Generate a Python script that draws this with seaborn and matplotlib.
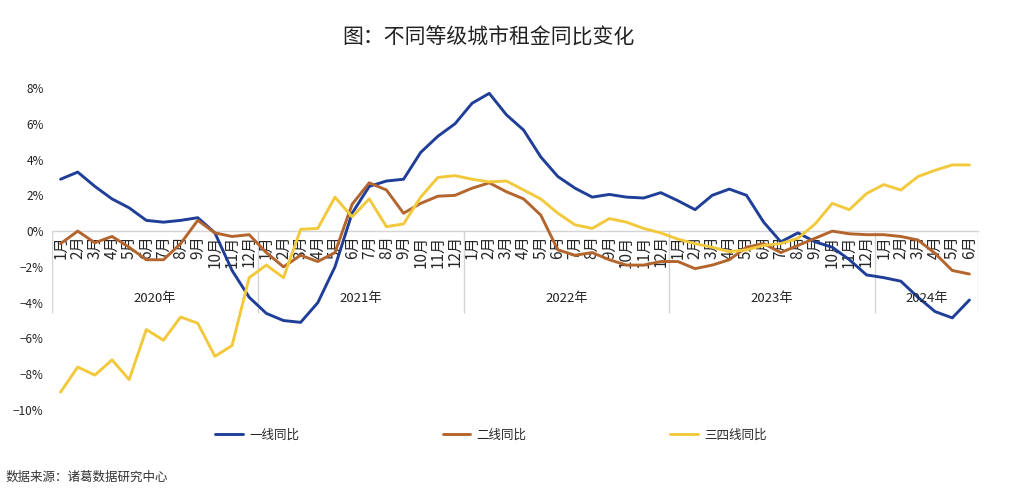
import numpy as np
import pandas as pd
import matplotlib
matplotlib.use("Agg")
import matplotlib.pyplot as plt
import seaborn as sns

# ---------------- data ----------------
years = ["2020年", "2021年", "2022年", "2023年", "2024年"]
months_per_year = [12, 12, 12, 12, 6]
month_labels = [f"{m}月" for n in months_per_year for m in range(1, n + 1)]

tier1 = [2.9, 3.3, 2.5, 1.8, 1.3, 0.6, 0.5, 0.6, 0.75, -0.1, -2.2, -3.7,
         -4.6, -5.0, -5.1, -4.0, -2.0, 1.0, 2.5, 2.8, 2.9, 4.4, 5.3, 6.0,
         7.15, 7.7, 6.5, 5.65, 4.15, 3.05, 2.4, 1.9, 2.05, 1.9, 1.85, 2.15,
         1.7, 1.2, 2.0, 2.35, 2.0, 0.5, -0.6, -0.1, -0.6, -0.9, -1.6, -2.45,
         -2.6, -2.8, -3.7, -4.5, -4.85, -3.85]
tier2 = [-0.7, 0.0, -0.65, -0.3, -0.9, -1.6, -1.6, -0.7, 0.6, -0.1, -0.3, -0.2,
         -1.2, -2.0, -1.35, -1.7, -1.2, 1.5, 2.7, 2.3, 1.0, 1.55, 1.95, 2.0,
         2.4, 2.7, 2.2, 1.8, 0.9, -1.05, -1.35, -1.2, -1.6, -1.9, -1.9, -1.7,
         -1.7, -2.1, -1.9, -1.6, -0.9, -0.7, -1.2, -0.8, -0.4, 0.0, -0.15, -0.2,
         -0.2, -0.3, -0.5, -1.25, -2.2, -2.4]
tier34 = [-9.0, -7.6, -8.05, -7.2, -8.3, -5.5, -6.1, -4.8, -5.15, -7.0, -6.4, -2.6,
          -1.9, -2.6, 0.1, 0.15, 1.9, 0.8, 1.8, 0.25, 0.4, 1.9, 3.0, 3.1,
          2.9, 2.75, 2.8, 2.3, 1.8, 1.0, 0.35, 0.15, 0.7, 0.5, 0.15, -0.1,
          -0.45, -0.7, -0.9, -1.15, -1.05, -0.8, -0.7, -0.4, 0.4, 1.55, 1.2, 2.1,
          2.6, 2.3, 3.05, 3.4, 3.7, 3.7]
series_names = ["一线同比", "二线同比", "三四线同比"]
colors = ["#1f3e98", "#b4652e", "#f2c93c"]

title = "图：不同等级城市租金同比变化"
source = "数据来源：诸葛数据研究中心"

# ---------------- plot ----------------
sns.set_theme(style="white")
plt.rcParams["font.family"] = ["Noto Sans CJK SC", "DejaVu Sans"]
plt.rcParams["axes.unicode_minus"] = True

n = len(month_labels)
idx = np.arange(n)
df = pd.concat([
    pd.DataFrame({"idx": idx, "value": vals, "series": name})
    for name, vals in zip(series_names, [tier1, tier2, tier34])
])

fig = plt.figure(figsize=(10.27, 5.0), dpi=100)
ax = fig.add_axes([52 / 1027, 1 - 410 / 500, (978 - 52) / 1027, (410 - 88) / 500])

sns.lineplot(data=df, x="idx", y="value", hue="series", hue_order=series_names,
             palette=colors, linewidth=2.1, ax=ax, legend=True)

ax.set_xlim(-0.5, n - 0.5)
ax.set_ylim(-10, 8)
yt = np.arange(-10, 9, 2)
ax.set_yticks(yt)
ax.set_yticklabels([f"{v}%".replace("-", "\u2212") for v in yt], fontsize=8.5, color="#222222")
ax.tick_params(axis="y", length=0, pad=6)

ax.set_xticks(idx)
ax.set_xticklabels(month_labels, fontsize=7.3, color="#222222")
ax.tick_params(axis="x", length=0, pad=3, labelrotation=90)
for lab in ax.get_xticklabels():
    lab.set_rotation(90)
    lab.set_va("top")
    lab.set_ha("center")
ax.set_xlabel("")
ax.set_ylabel("")

for s in ["left", "right", "top"]:
    ax.spines[s].set_visible(False)
ax.spines["bottom"].set_position(("data", 0))
ax.spines["bottom"].set_color("#d4d4d4")
ax.spines["bottom"].set_linewidth(1.0)
ax.spines["bottom"].set_zorder(0)

# year group separators and labels
bounds = np.concatenate([[0], np.cumsum(months_per_year)]) - 0.5
ax.vlines(bounds, -4.6, 0, colors="#d4d4d4", linewidth=1.0, zorder=0)
for i, y in enumerate(years):
    ax.text((bounds[i] + bounds[i + 1]) / 2, -3.75, y, ha="center", va="center",
            fontsize=9.5, color="#222222")

# legend
h, l = ax.get_legend_handles_labels()
ax.get_legend().remove()
fig.legend(h, l, loc="center", bbox_to_anchor=(0.478, 0.13), ncol=3, frameon=False,
           fontsize=9, handlelength=2.2, handletextpad=0.5, columnspacing=11.5)

fig.text(0.476, 0.924, title, ha="center", va="center", fontsize=15, color="#222222")
fig.text(0.005, 0.046, source, ha="left", va="center", fontsize=9, color="#333333")

fig.savefig("out.png", dpi=100)
